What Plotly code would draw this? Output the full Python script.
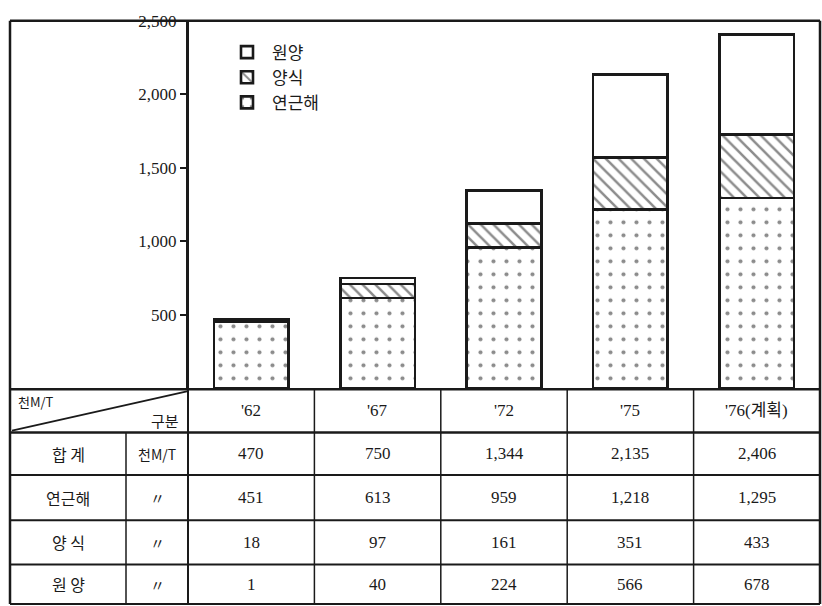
import plotly.graph_objects as go

# ---- data (thousand M/T) ----
years = ["'62", "'67", "'72", "'75", "'76(계획)"]
total = [470, 750, 1344, 2135, 2406]
coastal = [451, 613, 959, 1218, 1295]      # 연근해
aquaculture = [18, 97, 161, 351, 433]       # 양식
deepsea = [1, 40, 224, 566, 678]            # 원양
row_labels = ["합 계", "연근해", "양 식", "원 양"]
row_units = ["천M/T", "〃", "〃", "〃"]
ytick_vals = [500, 1000, 1500, 2000, 2500]

W, H = 822, 606
def py(p):  # pixel y -> paper y
    return 1 - p / H
def px(p):
    return p / W

SERIF = "Liberation Serif, DejaVu Serif, Noto Sans CJK KR"
KR = "Noto Sans CJK KR, Liberation Serif"
INK = "#1a1a1a"

fig = go.Figure()
fig.add_trace(go.Bar(
    x=years, y=coastal, name="연근해", width=0.59,
    marker=dict(color="white", line=dict(color=INK, width=2.6),
                pattern=dict(shape=".", fgcolor=INK, bgcolor="white", size=13, solidity=0.08)),
))
fig.add_trace(go.Bar(
    x=years, y=aquaculture, name="양식", width=0.59,
    marker=dict(color="white", line=dict(color=INK, width=2.6),
                pattern=dict(shape="\\", fgcolor=INK, bgcolor="white", size=9, solidity=0.28)),
))
fig.add_trace(go.Bar(
    x=years, y=deepsea, name="원양", width=0.59,
    marker=dict(color="white", line=dict(color=INK, width=2.6)),
))

shapes = []
def line(x0, y0, x1, y1, xref="paper", w=2):
    shapes.append(dict(type="line", xref=xref, yref="paper", x0=x0, x1=x1,
                       y0=y0, y1=y1, line=dict(color=INK, width=w)))

# outer frame
line(px(10), py(12), px(820), py(12), w=2.5)
line(px(10), py(12), px(10), py(604), w=2.5)
line(px(820), py(12), px(820), py(604), w=2.5)
# horizontal table rules
row_edges = [386, 430, 473, 519, 564, 604]
for i, yy in enumerate(row_edges):
    line(px(10), py(yy), px(820), py(yy), w=2.5 if i in (0, 1) else 2)
# vertical table rules
line(px(188), py(12), px(188), py(604), w=2)
line(px(126), py(430), px(126), py(604), w=1.5)
for i in range(len(years)):
    line(i + 0.5, py(386), i + 0.5, py(604), xref="x", w=1.5)
# header diagonal
line(px(12), py(428), px(188), py(388), w=1.8)

ann = []
def text(x, y, s, xref="paper", size=16, font=SERIF, xanchor="center"):
    ann.append(dict(x=x, y=y, xref=xref, yref="paper", text=s, showarrow=False,
                    xanchor=xanchor, yanchor="middle",
                    font=dict(family=font, size=size, color=INK)))

# header
text(px(16), py(398), "천M/T", size=13, font=KR, xanchor="left")
text(px(165), py(418), "구분", size=15, font=KR)
for i, yr in enumerate(years):
    text(yr, py(408), yr, xref="x", size=17, font=SERIF)

rows = [total, coastal, aquaculture, deepsea]
centers = [(row_edges[k + 1] + row_edges[k + 2]) / 2 for k in range(4)]
for r, (lab, unit, vals) in enumerate(zip(row_labels, row_units, rows)):
    yc = py(centers[r])
    text(px(68), yc, lab, size=16, font=KR)
    text(px(157), yc, unit, size=14 if r == 0 else 15, font=KR)
    for yr, v in zip(years, vals):
        text(yr, yc, f"{v:,}", xref="x", size=17, font=SERIF)

fig.update_layout(
    width=W, height=H,
    margin=dict(l=0, r=0, t=0, b=0),
    paper_bgcolor="white", plot_bgcolor="white",
    barmode="stack", bargap=0.4,
    showlegend=True,
    legend=dict(x=px(222), y=py(26), xanchor="left", yanchor="top",
                traceorder="reversed", bgcolor="rgba(0,0,0,0)",
                font=dict(family=KR, size=17, color=INK), itemwidth=40,
                tracegroupgap=16),
    xaxis=dict(domain=[px(188), px(820)], range=[-0.5, 4.5], showticklabels=False,
               showline=False, showgrid=False, zeroline=False, ticks=""),
    yaxis=dict(domain=[py(385), py(12)], range=[0, 2500], tickvals=ytick_vals,
               tickformat=",", showgrid=False, zeroline=False,
               showline=True, linecolor=INK, linewidth=2,
               ticks="outside", ticklen=6, tickwidth=1.5, tickcolor=INK,
               tickfont=dict(family=SERIF, size=17, color=INK)),
    shapes=shapes, annotations=ann,
)

fig.write_html("out.html", config={"displayModeBar": False},
               post_script="document.body.style.margin='0';document.body.style.overflow='hidden';")
